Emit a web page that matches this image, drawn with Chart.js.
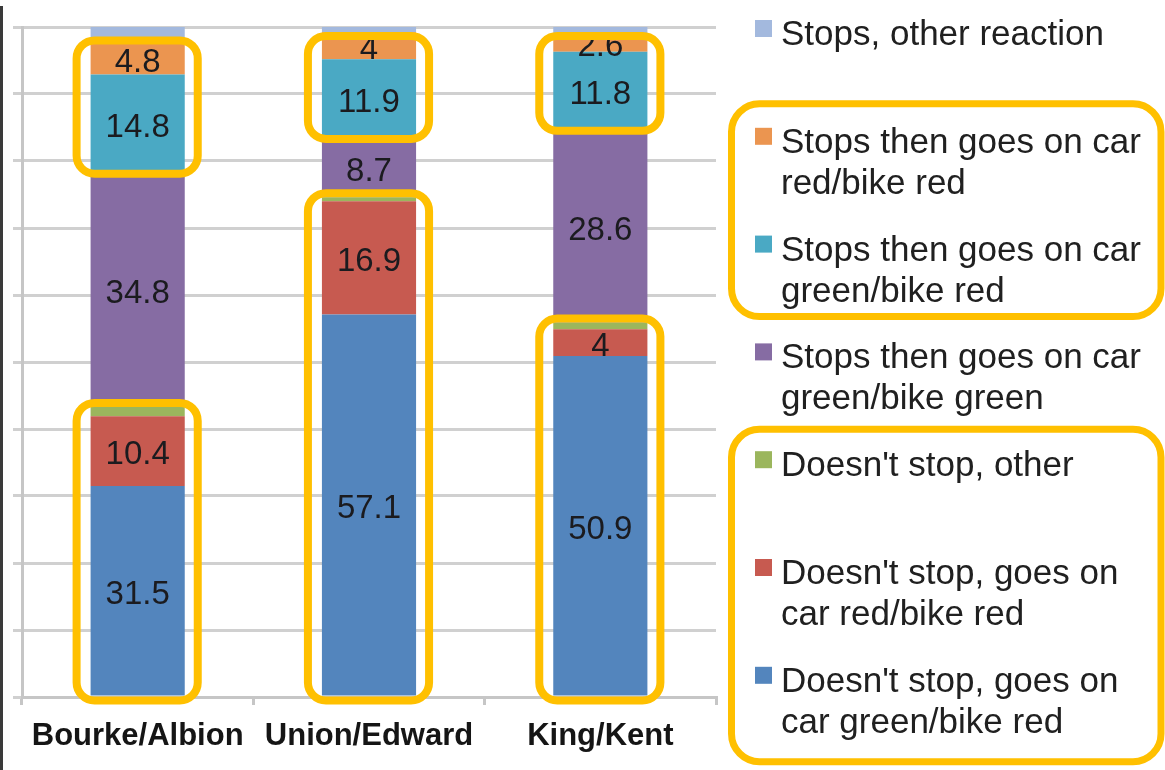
<!DOCTYPE html>
<html>
<head>
<meta charset="utf-8">
<script src="https://cdn.jsdelivr.net/npm/chart.js@4.4.1/dist/chart.umd.min.js"></script>
<style>
  html, body { margin: 0; background: #fff; }
  #wrap { position: relative; width: 1165px; height: 770px; }
</style>
</head>
<body>
<div id="wrap"><canvas id="reactions" width="1165" height="770"></canvas></div>
<script>
const sites = ["Bourke/Albion", "Union/Edward", "King/Kent"];

// percentages per intersection, listed from the bottom of the stack up
const goesOnCarGreenBikeRed = [31.5, 57.1, 50.9];
const goesOnCarRedBikeRed = [10.4, 16.9, 4];
const noStopOther = [1.4, 0.6, 1.0];
const stopsCarGreenBikeGreen = [34.8, 8.7, 28.6];
const stopsCarGreenBikeRed = [14.8, 11.9, 11.8];
const stopsCarRedBikeRed = [4.8, 4, 2.6];
const stopsOther = [2.3, 0.8, 1.1];

const yMin = 0, yMax = 100, yStep = 10;

const series = [
  {name: ["Doesn't stop, goes on", "car green/bike red"], data: goesOnCarGreenBikeRed, color: "#5385bd", labelled: true},
  {name: ["Doesn't stop, goes on", "car red/bike red"], data: goesOnCarRedBikeRed, color: "#c75a50", labelled: true},
  {name: ["Doesn't stop, other"], data: noStopOther, color: "#9bb65d", labelled: false},
  {name: ["Stops then goes on car", "green/bike green"], data: stopsCarGreenBikeGreen, color: "#866ca3", labelled: true},
  {name: ["Stops then goes on car", "green/bike red"], data: stopsCarGreenBikeRed, color: "#4aa9c4", labelled: true},
  {name: ["Stops then goes on car", "red/bike red"], data: stopsCarRedBikeRed, color: "#eb9550", labelled: true},
  {name: ["Stops, other reaction"], data: stopsOther, color: "#a3b9de", labelled: false}
];

const FONT = "'Liberation Sans', Arial, sans-serif";
const AMBER = "#ffc000";
const AXIS_GREY = "#c6c6c6";

// highlight frames around groups of stacked segments: [site, lowest dataset, highest dataset]
const barFrames = [
  [0, 4, 5, "top"], [0, 0, 2, "bottom"],
  [1, 4, 5, "top"], [1, 0, 2, "bottom"],
  [2, 4, 5, "top"], [2, 0, 2, "bottom"]
];
// frames around legend entries (entry indices counted from the top of the legend)
const legendFrames = [
  {from: 1, to: 2, padTop: 24, padBottom: 17},
  {from: 4, to: 6, padTop: 22, padBottom: 31}
];

function roundRect(ctx, x, y, w, h, r){
  ctx.beginPath();
  ctx.moveTo(x + r, y);
  ctx.arcTo(x + w, y, x + w, y + h, r);
  ctx.arcTo(x + w, y + h, x, y + h, r);
  ctx.arcTo(x, y + h, x, y, r);
  ctx.arcTo(x, y, x + w, y, r);
  ctx.closePath();
}

const segmentLabels = {
  id: "segmentLabels",
  afterDatasetsDraw(chart){
    const ctx = chart.ctx;
    ctx.save();
    ctx.font = "33px " + FONT;
    ctx.fillStyle = "#1b1b1f";
    ctx.textAlign = "center";
    ctx.textBaseline = "middle";
    chart.data.datasets.forEach((ds, d) => {
      if(!series[d].labelled) return;
      chart.getDatasetMeta(d).data.forEach((bar, i) => {
        const {x, y, base} = bar.getProps(["x", "y", "base"], true);
        ctx.fillText(String(ds.data[i]), x, (y + base) / 2 + 4);
      });
    });
    ctx.restore();
  }
};

const legendAndFrames = {
  id: "legendAndFrames",
  afterDraw(chart){
    const ctx = chart.ctx;
    const area = chart.chartArea;
    ctx.save();

    // dark rule down the left edge
    ctx.strokeStyle = "#3a3a3a";
    ctx.lineWidth = 3;
    ctx.beginPath();
    ctx.moveTo(1.5, 6);
    ctx.lineTo(1.5, 770);
    ctx.stroke();

    // legend, top entry is the top of the stack
    const entries = series.slice().reverse();
    const size = 35, lineGap = 41, entryGap = 107.8, top0 = 20;
    const capTops = [];
    ctx.font = size + "px " + FONT;
    ctx.textAlign = "left";
    ctx.textBaseline = "alphabetic";
    entries.forEach((s, k) => {
      const capTop = top0 + k * entryGap;
      capTops.push(capTop);
      ctx.fillStyle = s.color;
      ctx.fillRect(755, capTop, 17, 17);
      ctx.fillStyle = "#202020";
      s.name.forEach((line, j) => ctx.fillText(line, 781, capTop + 25 + j * lineGap));
    });

    ctx.strokeStyle = AMBER;
    ctx.lineWidth = 7;
    legendFrames.forEach(f => {
      const top = capTops[f.from] - f.padTop;
      const lastLines = entries[f.to].name.length;
      const bottom = capTops[f.to] + 23 + (lastLines - 1) * lineGap + f.padBottom;
      roundRect(ctx, 731.5, top, 1161 - 731.5, bottom - top, 28);
      ctx.stroke();
    });

    // frames around bar segments
    ctx.lineWidth = 8;
    barFrames.forEach(([i, lo, hi, where]) => {
      const low = chart.getDatasetMeta(lo).data[i].getProps(["x", "base", "width"], true);
      const high = chart.getDatasetMeta(hi).data[i].getProps(["y"], true);
      const left = low.x - low.width / 2 - 14;
      const right = low.x + low.width / 2 + 13;
      let top, bottom;
      if(where === "top"){
        top = Math.max(high.y - 2, area.top + 9);
        bottom = low.base;
      } else {
        top = high.y - 4;
        bottom = low.base + 5;
      }
      roundRect(ctx, left, top, right - left, bottom - top, 18);
      ctx.stroke();
    });

    ctx.restore();
  }
};

new Chart(document.getElementById("reactions"), {
  type: "bar",
  data: {
    labels: sites,
    datasets: series.map(s => ({
      label: s.name.join(" "),
      data: s.data,
      backgroundColor: s.color,
      borderWidth: 0,
      categoryPercentage: 1,
      barPercentage: 0.407
    }))
  },
  options: {
    responsive: false,
    animation: false,
    layout: {padding: {left: 13, top: 27, right: 449, bottom: 0}},
    plugins: {legend: {display: false}, tooltip: {enabled: false}},
    scales: {
      x: {
        stacked: true,
        grid: {display: true, drawOnChartArea: false, drawTicks: true, tickLength: 8, offset: true, color: AXIS_GREY, lineWidth: 3},
        border: {display: true, color: AXIS_GREY, width: 3},
        ticks: {color: "#151515", padding: 13, font: {family: FONT, size: 31, weight: "bold"}},
        afterFit: s => { s.height = 73; }
      },
      y: {
        stacked: true,
        min: yMin,
        max: yMax,
        ticks: {display: false, stepSize: yStep},
        grid: {color: "#d0d0d0", lineWidth: 3, tickLength: 9},
        border: {color: AXIS_GREY, width: 3},
        afterFit: s => { s.width = 9; }
      }
    }
  },
  plugins: [segmentLabels, legendAndFrames]
});
</script>
</body>
</html>
